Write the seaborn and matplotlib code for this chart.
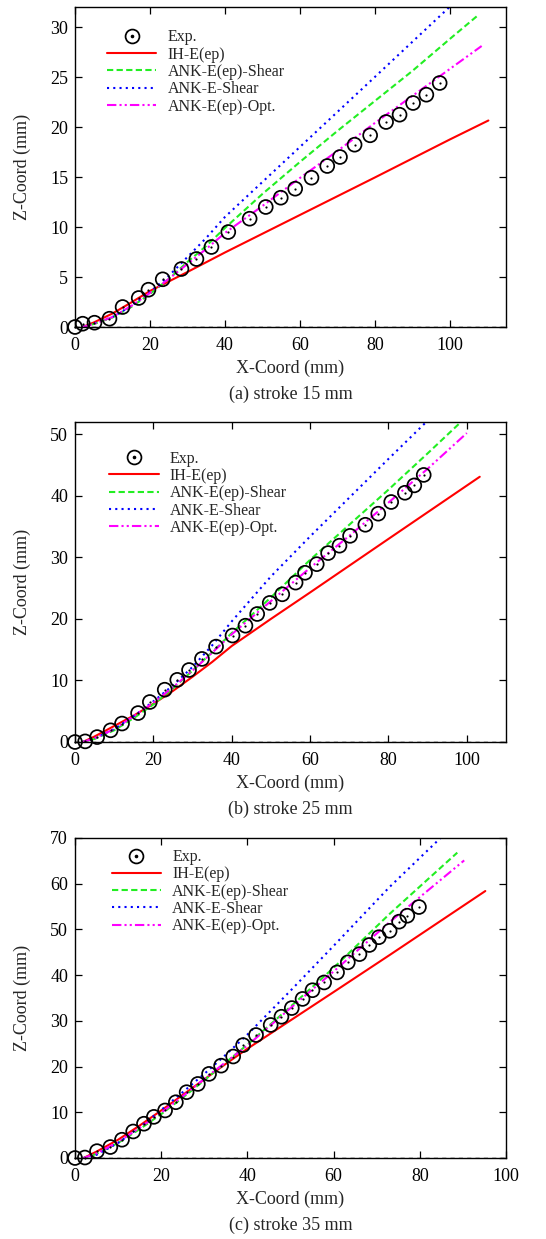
import numpy as np
import pandas as pd
import matplotlib
matplotlib.use("Agg")
import matplotlib.pyplot as plt
import seaborn as sns
from matplotlib.lines import Line2D
from matplotlib.legend_handler import HandlerTuple

# ---------------- data ----------------
# Panel (a) stroke 15 mm
a_exp_x = [0, 2.05, 5.2, 9.2, 12.7, 17.0, 19.6, 23.4, 28.4, 32.4, 36.4, 40.9, 46.6, 50.9, 54.9,
           58.75, 63.1, 67.3, 70.7, 74.6, 78.75, 83.0, 86.6, 90.2, 93.75, 97.3]
a_exp_y = [0, 0.33, 0.43, 0.83, 2.0, 2.9, 3.73, 4.77, 5.8, 6.8, 8.0, 9.5, 10.83, 12.0, 12.93,
           13.83, 14.93, 16.1, 17.0, 18.23, 19.17, 20.5, 21.23, 22.4, 23.23, 24.4]
a_ih_x = [2, 5, 10, 15, 20, 30, 40, 60, 80, 100, 110.3]
a_ih_y = [0, 0.45, 1.35, 2.45, 3.6, 5.5, 7.45, 11.2, 14.95, 18.75, 20.65]
a_shear_x = [2, 5, 10, 15, 20, 25, 30, 35, 40, 50, 60, 70, 80, 90, 100, 107.3]
a_shear_y = [0, 0.3, 0.95, 2.0, 3.3, 4.8, 6.5, 8.1, 9.9, 13.3, 16.5, 19.6, 22.6, 25.6, 28.8, 31.1]
a_eshear_x = [2, 5, 10, 15, 20, 25, 30, 35, 40, 60, 80, 100.5]
a_eshear_y = [0, 0.35, 1.0, 2.1, 3.5, 5.1, 7.0, 8.9, 11.0, 18.0, 25.0, 32.2]
a_opt_x = [2, 5, 10, 15, 20, 25, 30, 35, 40, 50, 60, 70, 80, 90, 100, 108.5]
a_opt_y = [0, 0.3, 1.0, 2.1, 3.4, 4.8, 6.3, 7.8, 9.4, 12.1, 14.9, 17.6, 20.4, 23.1, 25.8, 28.1]

# Panel (b) stroke 25 mm
b_exp_x = [0, 2.6, 5.65, 9.1, 12.0, 16.1, 19.1, 22.9, 26.1, 29.1, 32.4, 36.0, 40.2, 43.5, 46.5,
           49.7, 52.9, 56.3, 58.7, 61.7, 64.6, 67.5, 70.2, 74.1, 77.4, 80.7, 84.2, 86.6, 89.0]
b_exp_y = [0, 0.1, 0.8, 1.9, 3.0, 4.7, 6.5, 8.5, 10.1, 11.7, 13.5, 15.5, 17.3, 18.9, 20.8,
           22.6, 24.0, 25.9, 27.5, 28.9, 30.7, 31.9, 33.5, 35.3, 37.1, 39.0, 40.5, 41.7, 43.4]
b_ih_x = [2, 5, 10, 15, 20, 25, 30, 35, 40, 50, 60, 80, 103.3]
b_ih_y = [0, 0.9, 2.6, 4.3, 6.2, 8.3, 10.6, 13.0, 15.6, 20.0, 24.3, 33.0, 43.1]
b_shear_x = [2, 5, 10, 15, 20, 25, 30, 35, 40, 50, 60, 70, 80, 90, 98.5]
b_shear_y = [0, 0.5, 1.9, 3.9, 6.1, 8.7, 11.6, 14.6, 17.7, 23.5, 29.6, 35.3, 41.0, 46.9, 52.0]
b_eshear_x = [2, 5, 10, 15, 20, 25, 30, 35, 40, 50, 60, 70, 80, 89.8]
b_eshear_y = [0, 0.6, 2.1, 4.2, 6.6, 9.2, 12.2, 15.7, 19.6, 26.9, 33.4, 39.7, 46.0, 52.1]
b_opt_x = [2, 5, 10, 15, 20, 25, 30, 35, 40, 50, 60, 70, 80, 90, 100]
b_opt_y = [0, 0.6, 2.1, 4.2, 6.4, 8.9, 11.6, 14.5, 17.5, 22.9, 28.3, 33.5, 38.9, 44.4, 50.2]

# Panel (c) stroke 35 mm
c_exp_x = [0, 2.3, 5.1, 8.2, 10.9, 13.5, 16.0, 18.3, 20.9, 23.4, 25.9, 28.5, 31.1, 33.9, 36.7,
           39.0, 42.0, 45.4, 47.9, 50.3, 52.8, 55.1, 57.8, 60.8, 63.3, 66.0, 68.3, 70.5, 73.0,
           75.2, 77.1, 79.8]
c_exp_y = [0, 0.1, 1.5, 2.4, 4.0, 5.8, 7.5, 9.0, 10.4, 12.2, 14.4, 16.2, 18.4, 20.2, 22.2,
           24.7, 26.9, 29.1, 30.9, 32.8, 34.8, 36.7, 38.4, 40.6, 42.8, 44.6, 46.6, 48.3, 49.7,
           51.7, 53.0, 54.9]
c_ih_x = [2, 5, 10, 15, 20, 25, 30, 35, 40, 50, 60, 73, 95.2]
c_ih_y = [0, 1.4, 4.0, 7.1, 10.4, 13.8, 17.2, 20.6, 23.9, 30.1, 36.3, 44.4, 58.4]
c_shear_x = [2, 5, 10, 15, 20, 25, 30, 35, 40, 50, 60, 73, 88.7]
c_shear_y = [0, 0.9, 3.3, 6.3, 9.6, 13.2, 17.0, 20.9, 24.8, 33.1, 41.6, 53.4, 66.8]
c_eshear_x = [2, 5, 10, 15, 20, 25, 30, 35, 40, 50, 60, 73, 84.8]
c_eshear_y = [0, 0.7, 3.3, 6.7, 10.5, 14.4, 18.4, 22.6, 27.0, 36.6, 46.4, 59.3, 70.0]
c_opt_x = [2, 5, 10, 15, 20, 25, 30, 35, 40, 50, 60, 73, 90.3]
c_opt_y = [0, 1.0, 3.5, 6.6, 9.9, 13.5, 17.3, 21.0, 24.6, 32.8, 40.8, 51.6, 65.1]

series_labels = ["Exp.", "IH-E(ep)", "ANK-E(ep)-Shear", "ANK-E-Shear", "ANK-E(ep)-Opt."]
captions = ["(a) stroke 15 mm", "(b) stroke 25 mm", "(c) stroke 35 mm"]
xlims = [(0, 115), (0, 110), (0, 100)]
ylims = [(0, 32), (0, 52), (0, 70)]
xticks = [[0, 20, 40, 60, 80, 100], [0, 20, 40, 60, 80, 100], [0, 20, 40, 60, 80, 100]]
yticks = [[0, 5, 10, 15, 20, 25, 30], [0, 10, 20, 30, 40, 50], [0, 10, 20, 30, 40, 50, 60, 70]]

panels = [
    (a_exp_x, a_exp_y, [(a_ih_x, a_ih_y), (a_shear_x, a_shear_y), (a_eshear_x, a_eshear_y), (a_opt_x, a_opt_y)]),
    (b_exp_x, b_exp_y, [(b_ih_x, b_ih_y), (b_shear_x, b_shear_y), (b_eshear_x, b_eshear_y), (b_opt_x, b_opt_y)]),
    (c_exp_x, c_exp_y, [(c_ih_x, c_ih_y), (c_shear_x, c_shear_y), (c_eshear_x, c_eshear_y), (c_opt_x, c_opt_y)]),
]

# ---------------- style ----------------
sns.set_style("ticks")
plt.rcParams["font.family"] = ["Liberation Serif", "DejaVu Serif"]

line_colors = ["#ff0000", "#22ee22", "#0000ff", "#ff00ff"]
line_dashes = [None, (3.0, 1.6), (1.0, 2.0), (4.5, 1.5, 1.0, 1.5, 1.0, 1.5)]
LW = 1.5

W, H = 546, 1239
ax_left, ax_right = 75, 506
ax_tops = [7, 422, 838]
ax_bottoms = [327, 742, 1158]
legend_anchor = [(0.074, 0.93), (0.079, 0.91), (0.085, 0.965)]

fig = plt.figure(figsize=(W / 100, H / 100), dpi=100)

for i, (ex, ey, lines) in enumerate(panels):
    top, bot = ax_tops[i], ax_bottoms[i]
    ax = fig.add_axes([ax_left / W, 1 - bot / H, (ax_right - ax_left) / W, (bot - top) / H])

    handles = []
    for (lx, ly), col, dsh in zip(lines, line_colors, line_dashes):
        df = pd.DataFrame({"x": lx, "y": ly})
        sns.lineplot(data=df, x="x", y="y", ax=ax, color=col, linewidth=LW,
                     estimator=None, sort=False, legend=False)
        ln = ax.lines[-1]
        if dsh is not None:
            ln.set_dashes(dsh)
        handles.append(ln)

    dfe = pd.DataFrame({"x": ex, "y": ey})
    sns.scatterplot(data=dfe, x="x", y="y", ax=ax, marker="o", s=100,
                    facecolors="none", edgecolor="black", linewidth=1.25, clip_on=False, zorder=5)
    sns.scatterplot(data=dfe, x="x", y="y", ax=ax, marker="o", s=2.5,
                    color="black", linewidth=0, clip_on=False, zorder=6)

    ax.axhline(0, color="black", linewidth=1.0, linestyle=(0, (3, 3)), zorder=4)

    ax.set_xlim(*xlims[i])
    ax.set_ylim(*ylims[i])
    ax.set_xticks(xticks[i])
    ax.set_yticks(yticks[i])
    ax.tick_params(direction="in", top=True, right=True, length=5, width=0.9,
                   labelsize=13, colors="black")
    ax.tick_params(axis="x", pad=7)
    ax.tick_params(axis="y", pad=5)
    for sp in ax.spines.values():
        sp.set_visible(True)
        sp.set_linewidth(1.0)
        sp.set_color("black")

    ax.set_xlabel("X-Coord (mm)", fontsize=13)
    ax.set_ylabel("Z-Coord (mm)", fontsize=13)
    hpx = bot - top
    wpx = ax_right - ax_left
    ax.xaxis.set_label_coords(0.5, -41 / hpx)
    ax.xaxis.label.set_va("center")
    ax.yaxis.set_label_coords(-(ax_left - 22) / wpx, 0.5)
    ax.yaxis.label.set_va("center")

    exp_handle = (Line2D([], [], marker="o", markersize=10, markerfacecolor="none",
                         markeredgecolor="black", markeredgewidth=1.25, linestyle="none"),
                  Line2D([], [], marker="o", markersize=1.6, color="black", linestyle="none"))
    ax.legend([exp_handle] + handles, series_labels,
              handler_map={tuple: HandlerTuple(ndivide=1, pad=0)},
              loc="upper left", bbox_to_anchor=legend_anchor[i], frameon=False,
              fontsize=11.5, handlelength=3.1, handletextpad=0.7, labelspacing=0.08,
              borderpad=0, borderaxespad=0)

    fig.text((ax_left + ax_right) / 2 / W, 1 - (bot + 67) / H, captions[i],
             ha="center", va="center", fontsize=13)

fig.savefig("out.png", dpi=100)
